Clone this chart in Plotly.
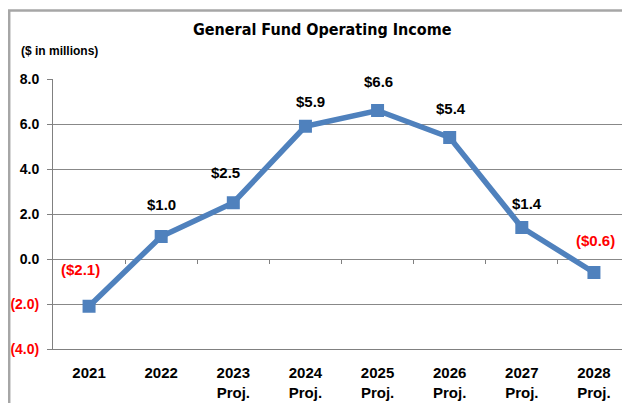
import plotly.graph_objects as go

categories = ["2021", "2022", "2023<br>Proj.", "2024<br>Proj.", "2025<br>Proj.",
              "2026<br>Proj.", "2027<br>Proj.", "2028<br>Proj."]
values = [-2.1, 1.0, 2.5, 5.9, 6.6, 5.4, 1.4, -0.6]
tick_vals = [-4, -2, 0, 2, 4, 6, 8]
tick_labels = ["(4.0)", "(2.0)", "0.0", "2.0", "4.0", "6.0", "8.0"]

# label offsets (pixels) for the data labels
label_dx = [-9, 0, -8, 5, 1, 1, 5, 2]
label_dy = [37, 32, 30, 25, 29, 29, 24, 32]

FONT = "Liberation Sans, Arial, sans-serif"
TFONT = "DejaVu Sans Condensed, Liberation Sans, sans-serif"
OFF = 8  # page body margin
W, H = 630 - OFF, 403 - OFF
L, T, B, R = 53 - OFF, 79 - OFF, 403 - 349, 0
PW, PH = W - L - R, H - T - B

def px(xs):  # screen x -> paper
    return (xs - OFF - L) / PW

def py(ys):  # screen y -> paper
    return (H - B - (ys - OFF)) / PH

def fmt(v):
    return f"(${abs(v):.1f})" if v < 0 else f"${v:.1f}"

ticktext = [f"<b><span style='color:#ff0000'>{t}</span></b>" if v < 0 else f"<b>{t}</b>"
            for v, t in zip(tick_vals, tick_labels)]

x_idx = list(range(len(categories)))

fig = go.Figure()
fig.add_trace(go.Scatter(
    x=x_idx, y=values, mode="lines+markers",
    line=dict(color="#4F81BD", width=5.5),
    marker=dict(symbol="square", size=13, color="#4F81BD"),
    hoverinfo="skip", showlegend=False,
))
fig.add_trace(go.Scatter(x=x_idx, y=values, xaxis="x2", mode="none",
                         showlegend=False, hoverinfo="skip"))

annotations = []
for i, v in enumerate(values):
    annotations.append(dict(
        x=i, y=v, xref="x", yref="y", text=f"<b>{fmt(v)}</b>", showarrow=False,
        xshift=label_dx[i], yshift=label_dy[i], xanchor="center", yanchor="middle",
        font=dict(family=FONT, size=15, color="#ff0000" if v < 0 else "#000000"),
    ))
annotations.append(dict(
    x=px(322), y=py(30), xref="paper", yref="paper",
    text="<b>General Fund Operating Income</b>", showarrow=False,
    xanchor="center", yanchor="middle", font=dict(family=TFONT, size=16, color="#000"),
))
annotations.append(dict(
    x=px(19), y=py(51), xref="paper", yref="paper",
    text="<b>($ in millions)</b>", showarrow=False,
    xanchor="left", yanchor="middle", font=dict(family=FONT, size=12, color="#000"),
))

fig.update_layout(
    width=W, height=H,
    margin=dict(l=L, r=R, t=T, b=B, pad=0, autoexpand=False),
    paper_bgcolor="white", plot_bgcolor="white",
    font=dict(family=FONT, color="#000"),
    xaxis=dict(
        range=[-0.5, len(categories) - 0.5], automargin=False,
        tickmode="array", tickvals=x_idx,
        ticktext=[f"<b>{c}</b>" for c in categories],
        tickfont=dict(size=15, family=FONT), ticks="", showgrid=False,
        zeroline=False, showline=True, linecolor="#808080", linewidth=1,
        mirror=False, ticklabelstandoff=10,
    ),
    xaxis2=dict(
        overlaying="x", anchor="free", position=4 / 12, side="bottom",
        automargin=False,
        range=[-0.5, len(categories) - 0.5], showticklabels=False,
        tickmode="array", tickvals=[i + 0.5 for i in x_idx[:-1]],
        ticks="outside", ticklen=4, tickcolor="#808080", showgrid=False,
        showline=False, zeroline=False,
    ),
    yaxis=dict(
        range=[-4, 8], tickmode="array", tickvals=tick_vals, ticktext=ticktext,
        tickfont=dict(size=14, family=FONT, color="#000"), automargin=False,
        ticks="outside", ticklen=5, tickcolor="#808080",
        showgrid=True, gridcolor="#888888", gridwidth=1,
        zeroline=False, showline=True, linecolor="#808080", linewidth=1,
        ticklabelstandoff=5,
    ),
    annotations=annotations,
    shapes=[dict(type="rect", xref="paper", yref="paper",
                 x0=(1.2 - L) / PW, x1=1.1, y0=-0.5, y1=(H - B - 2.5) / PH,
                 line=dict(color="#a6a6a6", width=2.5), layer="above")],
)

fig.write_html("out.html")
